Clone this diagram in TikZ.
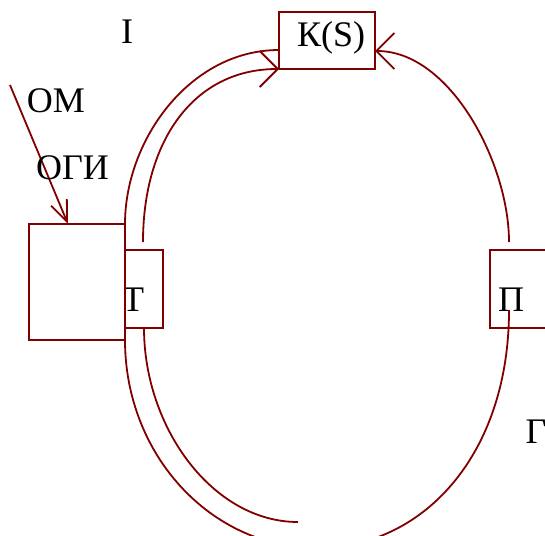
\documentclass[tikz,border=0pt]{standalone}
\usepackage{fontspec}
\setmainfont{Liberation Serif}
\usetikzlibrary{arrows.meta}
\definecolor{wine}{RGB}{128,0,0}
\begin{document}
\begin{tikzpicture}[x=1pt,y=-1pt,
  wire/.style={draw=wine, line width=1.8pt},
  boxnode/.style={rectangle, draw=wine, line width=1.8pt, fill=white, inner sep=0pt, outer sep=0pt},
  lbl/.style={font=\fontsize{36}{40}\selectfont, inner sep=0pt, anchor=base},
  bighead/.style={-{Straight Barb[length=18pt,width=36pt]}},
  smallhead/.style={-{Straight Barb[length=21pt,width=17pt]}}]
\useasboundingbox (0,0) rectangle (545,535);
\clip (0,0) rectangle (545,535);

% left block: small box T partly hidden behind the large box
\node[boxnode, minimum width=38pt, minimum height=78pt] (tbox) at (144,289) {};
\node[lbl] (lt) at (133,311) {Т};
\node[boxnode, minimum width=96pt, minimum height=116pt] (ogi) at (77,282) {};

% right block
\node[boxnode, minimum width=70pt, minimum height=78pt] (pbox) at (525,289) {};
\node[lbl] (lp) at (511,311) {П};

% top block
\node[boxnode, minimum width=96pt, minimum height=57pt] (ks) at (327,40.5) {};
\node[lbl] (lks) at (331,47) {К(S)};

% free ends of the loops
\coordinate (tin) at (143,242);
\coordinate (pup) at (509,242);
\coordinate (pin) at (509,310);
\coordinate (tend) at (298,522);
\coordinate (omstart) at (10,85);

% outer loop
\draw[wire] ([yshift=-9.5pt]ks.west) .. controls (190,50) and (125,140) .. (ogi.north east);
\draw[wire] (ogi.south east) .. controls (125,455) and (211,548) .. (317,548)
  .. controls (423,548) and (509,455) .. (pin);
\draw[wire, bighead] (pup) .. controls (509,163) and (450,51) .. ([yshift=-10.5pt]ks.east);

% inner loop
\draw[wire, bighead] (tin) .. controls (143,142) and (193,69) .. (ks.south west);
\draw[wire] (tbox.south) .. controls (144,428) and (213,522) .. (tend);

% incoming arrow
\draw[wire, smallhead] (omstart) -- ([xshift=-9pt]ogi.north);

% labels
\node[lbl] (lI) at (127,44) {I};
\node[lbl] (lom) at (56,112) {ОМ};
\node[lbl] (logi) at (72.5,179) {ОГИ};
\node[lbl] (lg) at (536,443) {Г};
\end{tikzpicture}
\end{document}
